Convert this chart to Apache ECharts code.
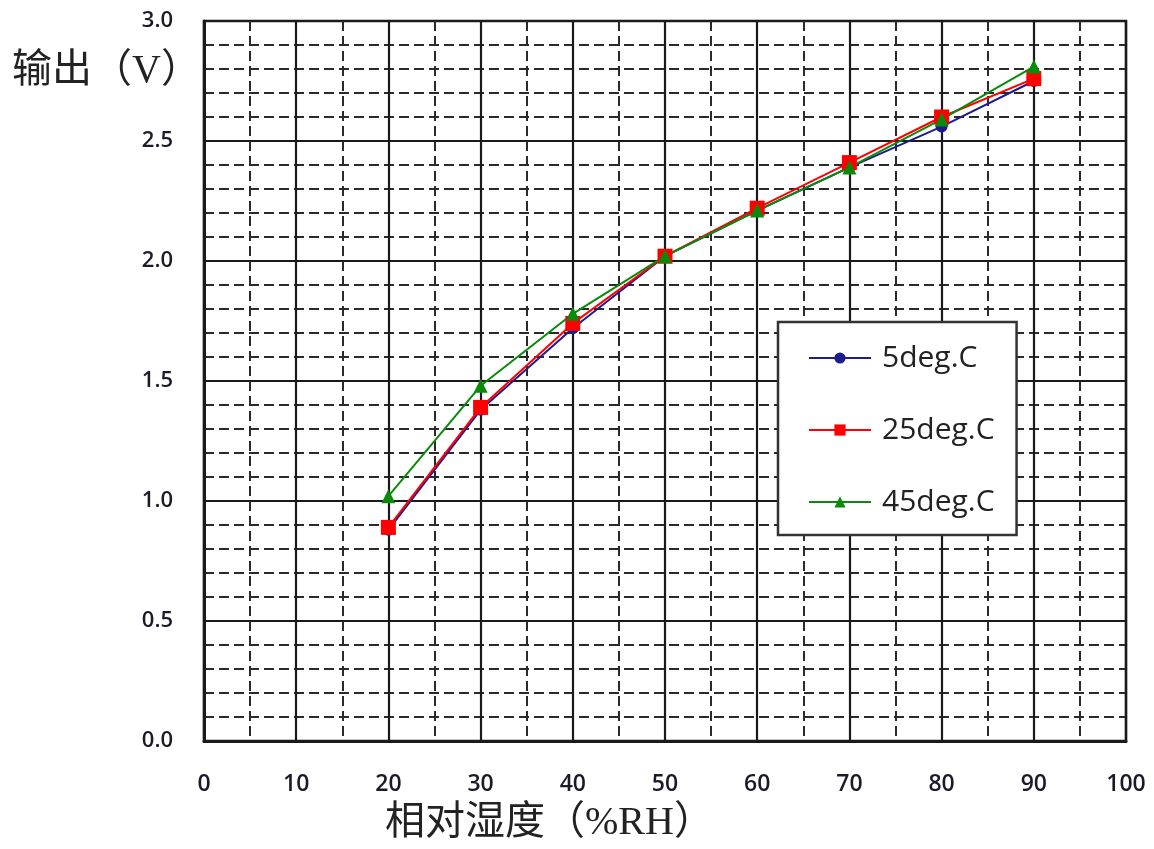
<!DOCTYPE html>
<html><head><meta charset="utf-8">
<script src="https://cdn.jsdelivr.net/npm/echarts@6/dist/echarts.min.js"></script>
<style>html,body{margin:0;padding:0;background:#fff}#c{width:1154px;height:849px}</style>
</head><body><div id="c"></div>
<script>
const humidity = [20, 30, 40, 50, 60, 70, 80, 90];
const v5 = [0.88, 1.38, 1.72, 2.02, 2.21, 2.39, 2.56, 2.75];
const v25 = [0.89, 1.39, 1.74, 2.02, 2.22, 2.41, 2.60, 2.76];
const v45 = [1.02, 1.48, 1.78, 2.02, 2.21, 2.39, 2.59, 2.81];
const seriesNames = ['5deg.C', '25deg.C', '45deg.C'];
const xTitle = '相对湿度（%RH）';
const yTitle = '输出（V）';

const pair = (ys) => humidity.map((x, i) => [x, ys[i]]);
const chart = echarts.init(document.getElementById('c'));
const solid = { show: true, lineStyle: { color: '#1a1a1a', width: 2.2, type: 'solid' } };
const dashed = { show: true, lineStyle: { color: '#2a2a2a', width: 2, type: [10, 5] } };
const titleFont = '"Liberation Serif", "Noto Sans CJK SC", serif';
chart.setOption({
  animation: false,
  backgroundColor: '#fff',
  grid: { left: 204, right: 28, top: 21, bottom: 108, show: true, borderColor: '#1a1a1a', borderWidth: 2.5 },
  xAxis: {
    type: 'value', min: 0, max: 100, interval: 10,
    axisLine: { show: true, lineStyle: { color: '#1a1a1a', width: 3 } },
    axisTick: { show: false },
    axisLabel: { margin: 32, fontSize: 23, fontWeight: 600, color: '#1a1a2a', fontFamily: 'Open Sans' },
    splitLine: solid,
    minorTick: { show: false, splitNumber: 2 },
    minorSplitLine: dashed
  },
  yAxis: {
    type: 'value', min: 0, max: 3, interval: 0.5,
    axisLine: { show: true, lineStyle: { color: '#1a1a1a', width: 3 } },
    axisTick: { show: false },
    axisLabel: { margin: 31, fontSize: 22, fontWeight: 600, color: '#1a1a2a', fontFamily: 'Open Sans',
      formatter: v => v.toFixed(1) },
    splitLine: solid,
    minorTick: { show: false, splitNumber: 5 },
    minorSplitLine: dashed
  },
  legend: {
    orient: 'vertical', left: 778, top: 322,
    padding: [21, 22, 18, 30], itemGap: 42, itemWidth: 62, itemHeight: 14,
    borderColor: '#333', borderWidth: 2.5, backgroundColor: '#fff',
    textStyle: { fontSize: 30, lineHeight: 30, color: '#222', fontFamily: 'Open Sans', padding: [0, 0, 0, 6] },
    data: seriesNames
  },
  graphic: [
    { type: 'text', left: 12, top: 52, style: { text: yTitle, fontSize: 40, fill: '#222', fontFamily: titleFont } },
    { type: 'text', left: 385, top: 803, style: { text: xTitle, fontSize: 40, fill: '#222', fontFamily: titleFont } }
  ],
  series: [
    { name: seriesNames[0], type: 'line', data: pair(v5), color: '#1c1c8f', symbol: 'circle', symbolSize: 12,
      lineStyle: { width: 2 } },
    { name: seriesNames[1], type: 'line', data: pair(v25), color: '#ff0000', symbol: 'rect', symbolSize: 15,
      lineStyle: { width: 2 } },
    { name: seriesNames[2], type: 'line', data: pair(v45), color: '#0a8a0a', symbol: 'triangle', symbolSize: 14,
      lineStyle: { width: 2 } }
  ]
});
</script></body></html>
